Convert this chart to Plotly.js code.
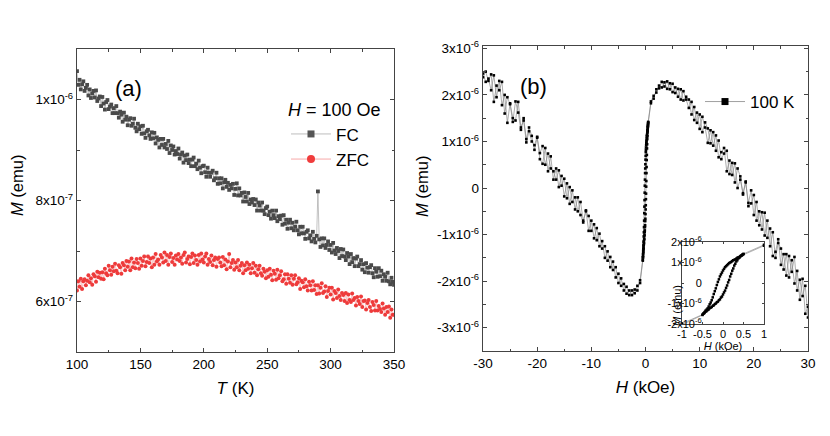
<!DOCTYPE html>
<html>
<head>
<meta charset="utf-8">
<script src="https://cdn.plot.ly/plotly-3.0.1.min.js"></script>
<style>
  html, body { margin: 0; padding: 0; background: #fff; }
  #graph { width: 830px; height: 436px; }
</style>
</head>
<body>
<div id="graph"></div>
<script>
// (a) M(T) at H = 100 Oe -- moment in units of 1e-9 emu
const tempK = [
  100, 101, 102, 103, 104, 105, 106, 107, 108, 109,
  110, 111, 112, 113, 114, 115, 116, 117, 118, 119,
  120, 121, 122, 123, 124, 125, 126, 127, 128, 129,
  130, 131, 132, 133, 134, 135, 136, 137, 138, 139,
  140, 141, 142, 143, 144, 145, 146, 147, 148, 149,
  150, 151, 152, 153, 154, 155, 156, 157, 158, 159,
  160, 161, 162, 163, 164, 165, 166, 167, 168, 169,
  170, 171, 172, 173, 174, 175, 176, 177, 178, 179,
  180, 181, 182, 183, 184, 185, 186, 187, 188, 189,
  190, 191, 192, 193, 194, 195, 196, 197, 198, 199,
  200, 201, 202, 203, 204, 205, 206, 207, 208, 209,
  210, 211, 212, 213, 214, 215, 216, 217, 218, 219,
  220, 221, 222, 223, 224, 225, 226, 227, 228, 229,
  230, 231, 232, 233, 234, 235, 236, 237, 238, 239,
  240, 241, 242, 243, 244, 245, 246, 247, 248, 249,
  250, 251, 252, 253, 254, 255, 256, 257, 258, 259,
  260, 261, 262, 263, 264, 265, 266, 267, 268, 269,
  270, 271, 272, 273, 274, 275, 276, 277, 278, 279,
  280, 281, 282, 283, 284, 285, 286, 287, 288, 289,
  290, 291, 292, 293, 294, 295, 296, 297, 298, 299,
  300, 301, 302, 303, 304, 305, 306, 307, 308, 309,
  310, 311, 312, 313, 314, 315, 316, 317, 318, 319,
  320, 321, 322, 323, 324, 325, 326, 327, 328, 329,
  330, 331, 332, 333, 334, 335, 336, 337, 338, 339,
  340, 341, 342, 343, 344, 345, 346, 347, 348, 349,
  350
];
const fcM = [
  1056, 1029, 1039, 1020, 1030, 1036, 1017, 1023, 1029, 1008,
  1020, 1003, 1012, 1017, 1004, 1018, 997, 1002, 1006, 987,
  1005, 992, 980, 995, 999, 981, 986, 990, 973, 983,
  973, 987, 973, 964, 976, 970, 956, 974, 960, 966,
  949, 960, 963, 948, 952, 962, 944, 937, 952, 941,
  947, 932, 948, 933, 924, 937, 940, 929, 922, 935,
  923, 934, 913, 925, 920, 905, 922, 910, 922, 905,
  912, 902, 918, 894, 909, 900, 907, 891, 898, 892,
  903, 883, 891, 895, 875, 889, 880, 891, 874, 881,
  868, 881, 885, 868, 873, 862, 879, 865, 854, 868,
  869, 856, 847, 865, 855, 847, 855, 859, 840, 844,
  855, 833, 844, 834, 844, 824, 836, 841, 827, 835,
  821, 831, 824, 833, 811, 823, 834, 810, 824, 810,
  815, 798, 816, 807, 798, 815, 793, 802, 796, 803,
  791, 802, 780, 796, 790, 780, 796, 780, 773, 785,
  788, 771, 778, 764, 780, 771, 765, 780, 759, 769,
  763, 770, 752, 771, 754, 762, 744, 756, 762, 745,
  756, 741, 748, 758, 741, 733, 748, 735, 748, 735,
  724, 738, 741, 725, 731, 719, 738, 724, 717, 730,
  818, 723, 708, 725, 711, 725, 706, 712, 719, 702,
  712, 697, 716, 701, 694, 706, 700, 686, 704, 690,
  703, 689, 682, 696, 689, 674, 694, 678, 686, 670,
  685, 689, 670, 674, 682, 663, 674, 658, 676, 667,
  657, 668, 672, 656, 648, 666, 659, 649, 666, 650,
  661, 641, 654, 649, 641, 657, 640, 634, 647, 639,
  633
];
const zfcM = [
  622, 640, 629, 645, 625, 640, 644, 632, 641, 652,
  638, 646, 633, 654, 650, 639, 659, 648, 657, 645,
  658, 644, 665, 656, 652, 671, 662, 653, 669, 660,
  675, 661, 656, 672, 668, 655, 676, 672, 662, 680,
  669, 679, 662, 685, 668, 677, 666, 684, 676, 665,
  685, 671, 680, 689, 670, 678, 689, 676, 685, 668,
  687, 673, 694, 679, 683, 673, 692, 687, 677, 697,
  680, 692, 673, 688, 695, 678, 686, 673, 691, 683,
  694, 680, 687, 675, 692, 697, 677, 684, 689, 674,
  688, 695, 676, 691, 682, 673, 692, 679, 695, 683,
  677, 689, 695, 673, 684, 678, 691, 672, 682, 687,
  669, 684, 687, 677, 670, 688, 672, 683, 664, 679,
  694, 668, 676, 682, 663, 677, 668, 682, 662, 671,
  676, 656, 672, 662, 677, 665, 673, 656, 666, 676,
  657, 671, 652, 664, 671, 656, 651, 665, 659, 646,
  662, 649, 665, 653, 642, 661, 655, 643, 663, 646,
  652, 660, 640, 644, 654, 635, 654, 645, 637, 652,
  633, 645, 652, 634, 638, 646, 625, 641, 638, 628,
  644, 630, 622, 639, 632, 622, 640, 623, 632, 615,
  632, 616, 627, 636, 617, 620, 630, 609, 621, 627,
  614, 627, 604, 621, 617, 607, 624, 611, 603, 617,
  613, 601, 617, 597, 614, 603, 599, 616, 603, 607,
  592, 609, 601, 595, 610, 589, 601, 602, 584, 597,
  603, 589, 581, 599, 593, 582, 601, 582, 591, 585,
  579, 596, 586, 574, 589, 579, 590, 568, 584, 574,
  574
];

// (b) M(H) loop at 100 K -- field in kOe, moment in units of 1e-6 emu
// sweep down 30 -> -30 kOe
const hDown = [
  30, 29.5, 29, 28.5, 28, 27.5, 27, 26.5, 26, 25.5,
  25, 24.5, 24, 23.5, 23, 22.5, 22, 21.5, 21, 20.5,
  20, 19.5, 19, 18.5, 18, 17.5, 17, 16.5, 16, 15.5,
  15, 14.5, 14, 13.5, 13, 12.5, 12, 11.5, 11, 10.5,
  10, 9.5, 9, 8.5, 8, 7.5, 7, 6.5, 6, 5.5,
  5, 4.5, 4, 3.5, 3, 2.5, 2, 1.5, 1,
  0.5, 0.475, 0.45, 0.425, 0.4, 0.375, 0.35, 0.325, 0.3, 0.275,
  0.25, 0.225, 0.2, 0.175, 0.15, 0.125, 0.1, 0.075, 0.05, 0.025,
  0, -0.025, -0.05, -0.075, -0.1, -0.125, -0.15, -0.175, -0.2, -0.225,
  -0.25, -0.275, -0.3, -0.325, -0.35, -0.375, -0.4, -0.425, -0.45, -0.475,
  -0.5,
  -1, -1.5, -2, -2.5, -3, -3.5, -4, -4.5, -5, -5.5,
  -6, -6.5, -7, -7.5, -8, -8.5, -9, -9.5, -10, -10.5,
  -11, -11.5, -12, -12.5, -13, -13.5, -14, -14.5, -15, -15.5,
  -16, -16.5, -17, -17.5, -18, -18.5, -19, -19.5, -20, -20.5,
  -21, -21.5, -22, -22.5, -23, -23.5, -24, -24.5, -25, -25.5,
  -26, -26.5, -27, -27.5, -28, -28.5, -29, -29.5, -30
];
const mDown = [
  -2.78, -2.1, -2.32, -1.97, -2.2, -1.48, -1.8, -1.46, -1.88, -1.42,
  -1.65, -1.1, -1.37, -1.46, -0.87, -1.07, -0.53, -0.89, -0.5, -0.7,
  -0.15, -0.33, -0.39, 0.14, -0.11, 0.18, 0.0, 0.53, 0.28, 0.59,
  0.36, 0.86, 0.77, 0.66, 1.13, 0.91, 1.24, 0.97, 1.3, 1.53,
  1.27, 1.62, 1.46, 1.85, 1.72, 1.9, 2.08, 1.9, 2.13, 2.04,
  2.24, 2.12, 2.29, 2.18, 2.28, 2.14, 2.12, 1.92, 1.82,
  1.41, 1.37, 1.35, 1.31, 1.27, 1.25, 1.23, 1.19, 1.15, 1.13,
  1.11, 1.07, 1.03, 1.0, 0.97, 0.92, 0.87, 0.82, 0.77, 0.69,
  0.61, 0.51, 0.42, 0.32, 0.18, 0.05, -0.1, -0.26, -0.4, -0.54,
  -0.7, -0.84, -0.95, -1.04, -1.15, -1.24, -1.3, -1.35, -1.42, -1.49,
  -1.54,
  -1.98, -2.2, -2.18, -2.3, -2.2, -2.27, -2.06, -2.1, -1.84, -1.92,
  -1.58, -1.7, -1.36, -1.5, -1.14, -1.25, -0.86, -1.08, -0.7, -0.92,
  -0.48, -0.74, -0.58, -0.2, -0.46, -0.05, -0.34, 0.1, -0.18, 0.26,
  0.02, 0.42, 0.18, 0.68, 0.36, 0.86, 0.52, 0.62, 1.1, 0.92,
  1.0, 1.22, 0.98, 1.45, 1.3, 1.85, 1.45, 1.5, 1.82, 1.4,
  2.0, 1.78, 2.3, 1.95, 2.42, 2.1, 2.35, 2.28, 2.46
];
// sweep up -30 -> 30 kOe
const hUp = [
  -30, -29.5, -29, -28.5, -28, -27.5, -27, -26.5, -26, -25.5,
  -25, -24.5, -24, -23.5, -23, -22.5, -22, -21.5, -21, -20.5,
  -20, -19.5, -19, -18.5, -18, -17.5, -17, -16.5, -16, -15.5,
  -15, -14.5, -14, -13.5, -13, -12.5, -12, -11.5, -11, -10.5,
  -10, -9.5, -9, -8.5, -8, -7.5, -7, -6.5, -6, -5.5,
  -5, -4.5, -4, -3.5, -3, -2.5, -2, -1.5, -1,
  -0.5, -0.475, -0.45, -0.425, -0.4, -0.375, -0.35, -0.325, -0.3, -0.275,
  -0.25, -0.225, -0.2, -0.175, -0.15, -0.125, -0.1, -0.075, -0.05, -0.025,
  0, 0.025, 0.05, 0.075, 0.1, 0.125, 0.15, 0.175, 0.2, 0.225,
  0.25, 0.275, 0.3, 0.325, 0.35, 0.375, 0.4, 0.425, 0.45, 0.475,
  0.5,
  1, 1.5, 2, 2.5, 3, 3.5, 4, 4.5, 5, 5.5,
  6, 6.5, 7, 7.5, 8, 8.5, 9, 9.5, 10, 10.5,
  11, 11.5, 12, 12.5, 13, 13.5, 14, 14.5, 15, 15.5,
  16, 16.5, 17, 17.5, 18, 18.5, 19, 19.5, 20, 20.5,
  21, 21.5, 22, 22.5, 23, 23.5, 24, 24.5, 25, 25.5,
  26, 26.5, 27, 27.5, 28, 28.5, 29, 29.5, 30
];
const mUp = [
  2.38, 2.5, 2.3, 2.44, 1.85, 2.2, 2.1, 2.28, 1.6, 1.95,
  1.8, 1.42, 1.86, 1.62, 1.25, 1.5, 1.05, 1.3, 1.12, 0.82,
  1.08, 0.75, 0.9, 0.5, 0.74, 0.42, 0.36, 0.18, 0.38, 0.05,
  0.2, -0.22, 0.02, -0.3, -0.2, -0.5, -0.3, -0.7, -0.5, -0.6,
  -0.92, -0.78, -1.12, -0.98, -1.3, -1.25, -1.56, -1.48, -1.76, -1.7,
  -2.04, -1.94, -2.2, -2.12, -2.3, -2.2, -2.26, -2.1, -2.04,
  -1.56, -1.49, -1.46, -1.4, -1.37, -1.32, -1.29, -1.23, -1.2, -1.17,
  -1.11, -1.09, -1.03, -1.0, -0.94, -0.91, -0.84, -0.8, -0.71, -0.66,
  -0.56, -0.46, -0.37, -0.24, -0.12, 0.03, 0.15, 0.32, 0.45, 0.6,
  0.71, 0.85, 0.94, 1.05, 1.11, 1.2, 1.24, 1.31, 1.33, 1.39,
  1.42,
  1.86, 1.98, 2.05, 2.2, 2.16, 2.27, 2.13, 2.25, 2.06, 2.16,
  1.96, 2.12, 1.88, 1.96, 1.9, 1.58, 1.74, 1.4, 1.58, 1.2,
  1.41, 1.28, 0.96, 1.2, 0.8, 1.02, 0.62, 0.74, 0.8, 0.3,
  0.54, 0.12, 0.42, 0.25, -0.14, 0.12, -0.32, -0.05, -0.58, -0.3,
  -0.8, -0.52, -1.02, -0.7, -1.25, -0.95, -1.5, -1.18, -1.3, -1.75,
  -1.42, -1.92, -1.55, -2.05, -1.78, -2.4, -1.95, -2.7, -2.55
];

// tick labels
const aTickVals = [6e-7, 8e-7, 1e-6];
const aTickText = ['6x10<sup>-7</sup>', '8x10<sup>-7</sup>', '1x10<sup>-6</sup>'];
const bXTickVals = [-30, -20, -10, 0, 10, 20, 30];
const bXTickText = ['-30', '-20', '-10', '0', '10', '20', '30'];
const bYTickVals = [-3e-6, -2e-6, -1e-6, 0, 1e-6, 2e-6, 3e-6];
const bYTickText = ['-3x10<sup>-6</sup>', '-2x10<sup>-6</sup>', '-1x10<sup>-6</sup>', '0',
  '1x10<sup>-6</sup>', '2x10<sup>-6</sup>', '3x10<sup>-6</sup>'];
const inXTickVals = [-1, -0.5, 0, 0.5, 1];
const inXTickText = ['-1', '-0.5', '0', '0.5', '1'];
const inYTickVals = [-2e-6, -1e-6, 0, 1e-6, 2e-6];
const inYTickText = ['-2x10<sup>-6</sup>', '-1x10<sup>-6</sup>', '0', '1x10<sup>-6</sup>', '2x10<sup>-6</sup>'];

const W = 830, H = 436;
const FONT = 'Liberation Sans, Arial, Helvetica, sans-serif';
const px = v => v / W;
const py = v => 1 - v / H;

const loopH = hDown.concat(hUp);
const loopM = mDown.concat(mUp).map(v => v * 1e-6);

const traces = [
  { x: tempK, y: fcM.map(v => v * 1e-9), mode: 'lines+markers', showlegend: false,
    marker: { symbol: 'square', size: 3.8, color: '#4a4a4a' }, line: { color: '#9a9a9a', width: 0.6 } },
  { x: tempK, y: zfcM.map(v => v * 1e-9), mode: 'lines+markers', showlegend: false,
    marker: { symbol: 'circle', size: 4, color: '#ee3b3b' }, line: { color: '#f4a0a0', width: 0.6 } },
  // legend entries for (a)
  { x: [null], y: [null], mode: 'lines+markers', name: 'FC', legend: 'legend',
    marker: { symbol: 'square', size: 7, color: '#555555' }, line: { color: '#bdbdbd', width: 1 } },
  { x: [null], y: [null], mode: 'lines+markers', name: 'ZFC', legend: 'legend',
    marker: { symbol: 'circle', size: 8, color: '#f03c3c' }, line: { color: '#f7a8a8', width: 1 } },
  // (b) main loop
  { x: loopH, y: loopM, xaxis: 'x2', yaxis: 'y2', mode: 'lines+markers', showlegend: false,
    marker: { symbol: 'square', size: 2.6, color: '#000' }, line: { color: '#8a8a8a', width: 0.7 } },
  { x: [null], y: [null], xaxis: 'x2', yaxis: 'y2', mode: 'lines+markers', name: '100 K', legend: 'legend2',
    marker: { symbol: 'square', size: 7, color: '#000' }, line: { color: '#a0a0a0', width: 1 } },
  // inset
  { x: loopH, y: loopM, xaxis: 'x3', yaxis: 'y3', mode: 'lines+markers', showlegend: false,
    marker: { symbol: 'square', size: 2.5, color: '#000' }, line: { color: '#808080', width: 0.6 } }
];

const axisBase = {
  showline: true, linecolor: '#444', linewidth: 1.2, mirror: 'allticks',
  ticks: 'inside', ticklen: 4, tickwidth: 1, tickcolor: '#444',
  showgrid: false, zeroline: false, tickfont: { size: 13.5, color: '#000' }
};

const note = (text, x, y, size, angle) => ({
  text: text, x: px(x), y: py(y), xref: 'paper', yref: 'paper',
  xanchor: 'center', yanchor: 'middle', showarrow: false,
  textangle: angle || 0, font: { size: size }
});

const layout = {
  width: W, height: H,
  margin: { l: 0, r: 0, t: 0, b: 0 },
  paper_bgcolor: '#fff', plot_bgcolor: 'rgba(0,0,0,0)',
  font: { family: FONT, color: '#000' },
  xaxis: Object.assign({}, axisBase, {
    domain: [px(77), px(394)], range: [100, 350], anchor: 'y', dtick: 50,
    minor: { tickmode: 'linear', tick0: 100, dtick: 25, ticks: 'inside', ticklen: 2.5, tickcolor: '#444' },
    title: { text: '<i>T</i> (K)', font: { size: 17 }, standoff: 10 }
  }),
  yaxis: Object.assign({}, axisBase, {
    domain: [py(352), py(49)], range: [5e-7, 1.1e-6], anchor: 'x',
    tickmode: 'array', tickvals: aTickVals, ticktext: aTickText,
    minor: { tickmode: 'linear', tick0: 5e-7, dtick: 1e-7, ticks: 'inside', ticklen: 2.5, tickcolor: '#444' }
  }),
  xaxis2: Object.assign({}, axisBase, {
    domain: [px(483), px(808)], range: [-30, 30], anchor: 'y2',
    tickmode: 'array', tickvals: bXTickVals, ticktext: bXTickText,
    minor: { tickmode: 'linear', tick0: 0, dtick: 5, ticks: 'inside', ticklen: 2.5, tickcolor: '#444' },
    title: { text: '<i>H</i> (kOe)', font: { size: 17 }, standoff: 10 }
  }),
  yaxis2: Object.assign({}, axisBase, {
    domain: [py(351), py(46)], range: [-3.5e-6, 3.05e-6], anchor: 'x2',
    tickmode: 'array', tickvals: bYTickVals, ticktext: bYTickText,
    minor: { tickmode: 'linear', tick0: 0, dtick: 5e-7, ticks: 'inside', ticklen: 2.5, tickcolor: '#444' }
  }),
  xaxis3: Object.assign({}, axisBase, {
    domain: [px(682), px(764)], range: [-1, 1], anchor: 'y3',
    tickmode: 'array', tickvals: inXTickVals, ticktext: inXTickText,
    ticklen: 2, linewidth: 1, tickfont: { size: 11, color: '#000' },
    title: { text: '<i>H</i> (kOe)', font: { size: 11 }, standoff: 0 }
  }),
  yaxis3: Object.assign({}, axisBase, {
    domain: [py(324), py(242)], range: [-2e-6, 2e-6], anchor: 'x3',
    tickmode: 'array', tickvals: inYTickVals, ticktext: inYTickText,
    ticklen: 2, linewidth: 1, tickfont: { size: 11, color: '#000' },
    ticklabelstandoff: -23
  }),
  legend: {
    x: px(286), y: py(93), xanchor: 'left', yanchor: 'top',
    bgcolor: 'rgba(0,0,0,0)', font: { size: 17 }, tracegroupgap: 0, itemwidth: 40,
    title: { text: '<i>H</i> = 100 Oe', font: { size: 18 } }
  },
  legend2: {
    x: px(700), y: py(84), xanchor: 'left', yanchor: 'top',
    bgcolor: 'rgba(0,0,0,0)', font: { size: 17 }, itemwidth: 40
  },
  annotations: [
    note('(a)', 128, 88, 22),
    note('(b)', 533, 87, 22),
    note('<i>M</i> (emu)', 17, 186, 16.5, -90),
    note('<i>M</i> (emu)', 422, 187, 16.5, -90),
    note('<i>M</i> (emu)', 677, 306, 11, -90)
  ]
};

Plotly.newPlot('graph', traces, layout, { displayModeBar: false, staticPlot: true });
</script>
</body>
</html>
